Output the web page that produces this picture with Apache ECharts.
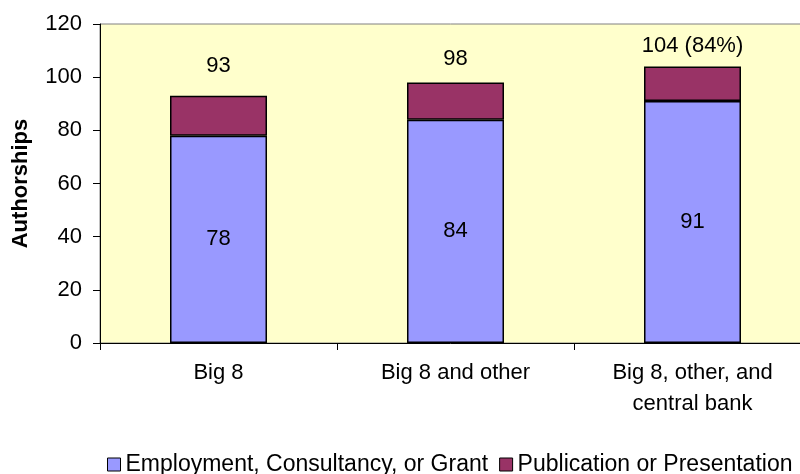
<!DOCTYPE html>
<html>
<head>
<meta charset="utf-8">
<script src="https://cdn.jsdelivr.net/npm/echarts@6/dist/echarts.min.js"></script>
<style>html,body{margin:0;padding:0;background:#fff}#c{width:800px;height:474px}</style>
</head>
<body>
<div id="c"></div>
<script>
const categories = ["Big 8", "Big 8 and other", "Big 8, other, and\ncentral bank"];
const employment = [78, 84, 91];
const publication = [15, 14, 13];
const totalLabels = ["93", "98", "104 (84%)"];
const seriesNames = ["Employment, Consultancy, or Grant", "Publication or Presentation"];
const yTicks = { min: 0, max: 120, interval: 20 };

const FONT = "'Liberation Sans', Arial, sans-serif";
const topGaps = [19, 13, 10];
const chart = echarts.init(document.getElementById('c'), null, { renderer: 'canvas' });
chart.setOption({
  animation: false,
  textStyle: { fontFamily: FONT, color: '#000' },
  grid: { left: 100, top: 24, width: 711, height: 319, outerBoundsMode: 'none', containLabel: false,
    show: true, backgroundColor: '#FFFFCC', borderColor: '#808080', borderWidth: 1 },
  legend: {
    left: 107, top: 453, width: 780, itemWidth: 13, itemHeight: 13, itemGap: 11, padding: 0,
    icon: 'rect',
    itemStyle: { borderColor: '#000', borderWidth: 1 },
    textStyle: { fontFamily: FONT, fontSize: 23, color: '#000' },
    data: seriesNames
  },
  xAxis: {
    type: 'category', data: categories,
    axisLine: { lineStyle: { color: '#000', width: 1 } },
    axisTick: { show: true, length: 7, lineStyle: { color: '#000' } },
    axisLabel: { fontFamily: FONT, fontSize: 22, color: '#000', margin: 14, lineHeight: 31 }
  },
  yAxis: {
    type: 'value', min: yTicks.min, max: yTicks.max, interval: yTicks.interval,
    name: 'Authorships', nameLocation: 'middle', nameGap: 68, nameRotate: 90,
    nameTextStyle: { fontFamily: FONT, fontSize: 22, fontWeight: 'bold', color: '#000' },
    axisLine: { show: true, lineStyle: { color: '#000', width: 1 } },
    axisTick: { show: true, length: 7, lineStyle: { color: '#000' } },
    axisLabel: { fontFamily: FONT, fontSize: 22, color: '#000', margin: 18 },
    splitLine: { show: false }
  },
  series: [
    {
      name: seriesNames[0], type: 'bar', stack: 'a', barWidth: 97,
      data: employment,
      itemStyle: { color: '#9999FF', borderColor: '#000', borderWidth: 1.5 },
      label: { show: true, position: 'inside', fontFamily: FONT, fontSize: 22, color: '#000' }
    },
    {
      name: seriesNames[1], type: 'bar', stack: 'a', barWidth: 97,
      data: publication.map((v, i) => ({
        value: v,
        label: { show: true, position: 'top', distance: topGaps[i], formatter: () => totalLabels[i] }
      })),
      itemStyle: { color: '#993366', borderColor: '#000', borderWidth: 1.5 },
      label: { fontFamily: FONT, fontSize: 22, color: '#000' }
    }
  ]
});
</script>
</body>
</html>
